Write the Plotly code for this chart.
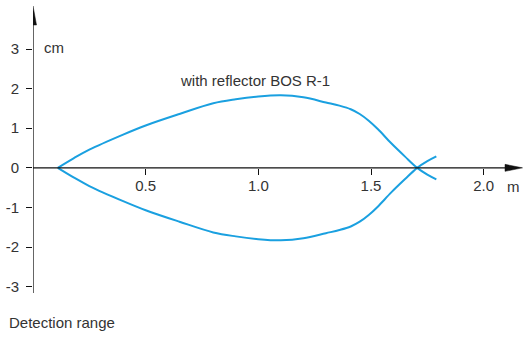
import plotly.graph_objects as go

# ---- data ----
range_m = [0.11, 0.18, 0.25, 0.40, 0.50, 0.65, 0.80, 0.90, 1.00, 1.10, 1.20, 1.30, 1.36, 1.41, 1.45, 1.49, 1.53, 1.59, 1.65, 1.705, 1.75, 1.79]
upper_cm = [0.0, 0.24, 0.46, 0.84, 1.07, 1.36, 1.63, 1.73, 1.80, 1.83, 1.78, 1.65, 1.57, 1.48, 1.36, 1.19, 0.98, 0.62, 0.29, 0.0, -0.17, -0.29]
lower_cm = [0.0, -0.24, -0.46, -0.84, -1.07, -1.36, -1.63, -1.73, -1.80, -1.83, -1.78, -1.65, -1.57, -1.48, -1.36, -1.19, -0.98, -0.62, -0.29, 0.0, 0.17, 0.29]

y_tick_vals = [-3, -2, -1, 0, 1, 2, 3]
y_tick_text = ["-3", "-2", "-1", "0", "1", "2", "3"]
x_tick_vals = [0.5, 1.0, 1.5, 2.0]
x_tick_text = ["0.5", "1.0", "1.5", "2.0"]

curve_label = "with reflector BOS R-1"
y_unit = "cm"
x_unit = "m"
caption = "Detection range"

# ---- layout geometry ----
W, H = 523, 338
L = 33
px_per_m = 225.33
px_per_cm = 39.61
y0_px = 167.85
x_max = (W - L) / px_per_m
y_top = y0_px / px_per_cm
y_bot = -(H - y0_px) / px_per_cm
x_axis_pos = (0 - y_bot) / (y_top - y_bot)

LINE = "#1aa0e0"
INK = "#111111"
TXT = "#333333"
FONT = "Liberation Sans, Arial, Helvetica, sans-serif"

fig = go.Figure()
for ys in (upper_cm, lower_cm):
    fig.add_trace(go.Scatter(
        x=range_m, y=ys, mode="lines",
        line=dict(color=LINE, width=2, shape="spline", smoothing=1.0),
        hoverinfo="skip", showlegend=False, cliponaxis=False))

def dx(px):
    return px / px_per_m

def dy(px):
    return px / px_per_cm

y_axis_bottom = (y0_px - 293) / px_per_cm
y_arrow_tip = (y0_px - 6) / px_per_cm
y_arrow_base = (y0_px - 25) / px_per_cm
x_arrow_tip = (522.5 - L) / px_per_m
x_arrow_base = (505 - L) / px_per_m

shapes = [
    dict(type="line", xref="x", yref="y", x0=0, x1=x_arrow_base, y0=0, y1=0,
         line=dict(color=INK, width=1.3)),
    dict(type="line", xref="x", yref="y", x0=0, x1=0, y0=y_axis_bottom, y1=y_arrow_base,
         line=dict(color=INK, width=1.3)),
    dict(type="path", xref="x", yref="y",
         path=f"M {x_arrow_tip},0 L {x_arrow_base},{dy(3.5)} L {x_arrow_base},{-dy(3.5)} Z",
         fillcolor=INK, line=dict(color=INK, width=0.5)),
    dict(type="path", xref="x", yref="y",
         path=f"M 0,{y_arrow_tip} L {dx(3.5)},{y_arrow_base} L {-dx(3.5)},{y_arrow_base} Z",
         fillcolor=INK, line=dict(color=INK, width=0.5)),
]

annotations = [
    dict(x=(255 - L) / px_per_m, y=(y0_px - 80.5) / px_per_cm, xref="x", yref="y",
         text=curve_label, showarrow=False, xanchor="center", yanchor="middle",
         font=dict(size=15, color=TXT, family=FONT)),
    dict(x=(41.5 - L) / px_per_m, y=(y0_px - 47) / px_per_cm, xref="x", yref="y",
         text=y_unit, showarrow=False, xanchor="left", yanchor="middle",
         font=dict(size=15, color=TXT, family=FONT)),
    dict(x=(505 - L) / px_per_m, y=(y0_px - 186) / px_per_cm, xref="x", yref="y",
         text=x_unit, showarrow=False, xanchor="left", yanchor="middle",
         font=dict(size=15, color=TXT, family=FONT)),
    dict(x=(7 - L) / (W - L), y=(H - 322) / H, xref="paper", yref="paper",
         text=caption, showarrow=False, xanchor="left", yanchor="middle",
         font=dict(size=15, color=TXT, family=FONT)),
]

fig.update_layout(
    width=W, height=H,
    margin=dict(l=L, r=0, t=0, b=0, pad=0),
    paper_bgcolor="white", plot_bgcolor="white",
    font=dict(family=FONT, size=15, color=TXT),
    shapes=shapes, annotations=annotations,
    xaxis=dict(range=[0, x_max], anchor="free", position=x_axis_pos,
               showgrid=False, zeroline=False, showline=False,
               tickmode="array", tickvals=x_tick_vals, ticktext=x_tick_text,
               ticks="outside", ticklen=6, tickwidth=1.2, tickcolor=INK,
               ticklabelstandoff=-2,
               tickfont=dict(size=15, color=TXT, family=FONT),
               automargin=False, fixedrange=True),
    yaxis=dict(range=[y_bot, y_top], showgrid=False, zeroline=False, showline=False,
               tickmode="array", tickvals=y_tick_vals, ticktext=y_tick_text,
               ticks="outside", ticklen=6, tickwidth=1.2, tickcolor=INK,
               ticklabelstandoff=4,
               tickfont=dict(size=15, color=TXT, family=FONT),
               automargin=False, fixedrange=True),
)

fig.write_html("out.html", config={"displayModeBar": False},
               post_script="document.body.style.margin='0';document.body.style.padding='0';")
